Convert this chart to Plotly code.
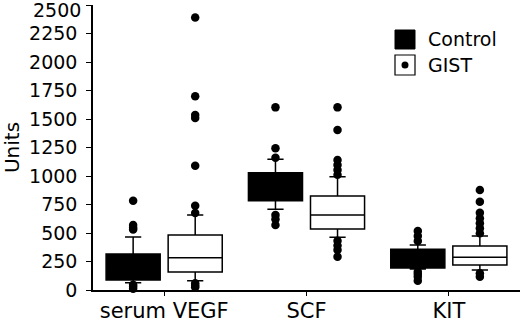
import plotly.graph_objects as go

# ---- data ----
categories = ["serum VEGF", "SCF", "KIT"]

control_q1 = [88, 783, 193]
control_median = [190, 900, 280]
control_q3 = [316, 1029, 357]
control_lower = [64, 708, 185]
control_upper = [465, 1146, 395]
control_outliers = [
    [783, 570, 545, 530, 45, 30, 12],
    [1602, 1243, 1160, 658, 620, 570],
    [517, 473, 430, 160, 140, 117, 82],
]

gist_q1 = [158, 535, 219]
gist_median = [283, 658, 287]
gist_q3 = [482, 824, 386]
gist_lower = [82, 462, 175]
gist_upper = [658, 994, 473]
gist_outliers = [
    [2391, 1700, 1535, 1508, 1090, 740, 675, 60, 40, 25],
    [1602, 1403, 1140, 1096, 1052, 1010, 432, 390, 351, 292],
    [877, 775, 678, 629, 585, 541, 497, 146, 117],
]

yticks = [0, 250, 500, 750, 1000, 1250, 1500, 1750, 2000, 2250, 2500]
legend_labels = ["Control", "GIST"]

# ---- style / layout constants ----
OFFSET = 0.218
BOXW = 0.38
FONT = "DejaVu Sans, Verdana, sans-serif"

fig = go.Figure()

groups = list(range(len(categories)))


def add_series(name, q1, med, q3, lo, hi, outl, sign, fill):
    xs = [g + sign * OFFSET for g in groups]
    fig.add_trace(go.Box(
        name=name, x=xs, q1=q1, median=med, q3=q3,
        lowerfence=lo, upperfence=hi,
        width=BOXW, whiskerwidth=0.3,
        fillcolor=fill, line=dict(color="black", width=1.5),
        boxpoints=False, showlegend=False, hoverinfo="skip",
    ))
    px, py = [], []
    for g, pts in zip(groups, outl):
        px += [g + sign * OFFSET] * len(pts)
        py += pts
    fig.add_trace(go.Scatter(
        x=px, y=py, mode="markers",
        marker=dict(color="black", size=8.5),
        showlegend=False, hoverinfo="skip", cliponaxis=False,
    ))


add_series(legend_labels[0], control_q1, control_median, control_q3,
           control_lower, control_upper, control_outliers, -1, "black")
add_series(legend_labels[1], gist_q1, gist_median, gist_q3,
           gist_lower, gist_upper, gist_outliers, +1, "white")

# ---- custom legend (paper coords) ----
L, R, T, B = 93, 0, 5, 32
W, H = 520, 322
pw, ph = W - L - R, H - T - B


def px2x(p):
    return (p - L) / pw


def py2y(p):
    return (H - B - p) / ph


fig.add_shape(type="rect", xref="paper", yref="paper",
              x0=px2x(395), x1=px2x(415), y0=py2y(49), y1=py2y(30),
              fillcolor="black", line=dict(color="black", width=1))
fig.add_shape(type="rect", xref="paper", yref="paper",
              x0=px2x(395), x1=px2x(415), y0=py2y(75), y1=py2y(55),
              fillcolor="white", line=dict(color="black", width=1.2))
fig.add_shape(type="circle", xref="paper", yref="paper",
              x0=px2x(401.5), x1=px2x(408.5), y0=py2y(68.5), y1=py2y(61.5),
              fillcolor="black", line=dict(color="black", width=0))
for label, cy in zip(legend_labels, (38.5, 64.5)):
    fig.add_annotation(text=label, xref="paper", yref="paper",
                       x=px2x(426), y=py2y(cy), xanchor="left", yanchor="middle",
                       showarrow=False, font=dict(size=19, color="black", family=FONT))

# top y tick label nudged down to stay inside the picture (as in the reference)
ticktext = [str(v) for v in yticks[:-1]] + [""]
fig.add_annotation(text=str(yticks[-1]), xref="paper", yref="y",
                   x=0, y=yticks[-1], xanchor="right", yanchor="middle",
                   xshift=-11, yshift=-5, showarrow=False, borderpad=0,
                   font=dict(size=19, color="black", family=FONT))

fig.update_layout(
    width=W, height=H,
    margin=dict(l=L, r=R, t=T, b=B, pad=0, autoexpand=False),
    paper_bgcolor="white", plot_bgcolor="white",
    font=dict(family=FONT, size=19, color="black"),
)
fig.update_xaxes(
    range=[-0.5, 2.5], tickvals=groups, ticktext=categories,
    showline=True, linecolor="black", linewidth=1.5,
    ticks="outside", ticklen=4, tickcolor="black",
    showgrid=False, zeroline=False, tickfont=dict(size=21),
    ticklabelstandoff=-3, automargin=False,
)
fig.update_yaxes(
    range=[0, 2500], tickvals=yticks, ticktext=ticktext,
    showline=True, linecolor="black", linewidth=1.5,
    ticks="outside", ticklen=5, tickcolor="black",
    showgrid=False, zeroline=False, tickfont=dict(size=19),
    ticklabelstandoff=5, automargin=False,
    title=dict(text="Units", standoff=6, font=dict(size=20)),
)

fig.write_html("out.html",
               config={"displayModeBar": False},
               post_script="document.body.style.margin='0';document.body.style.padding='0';")
